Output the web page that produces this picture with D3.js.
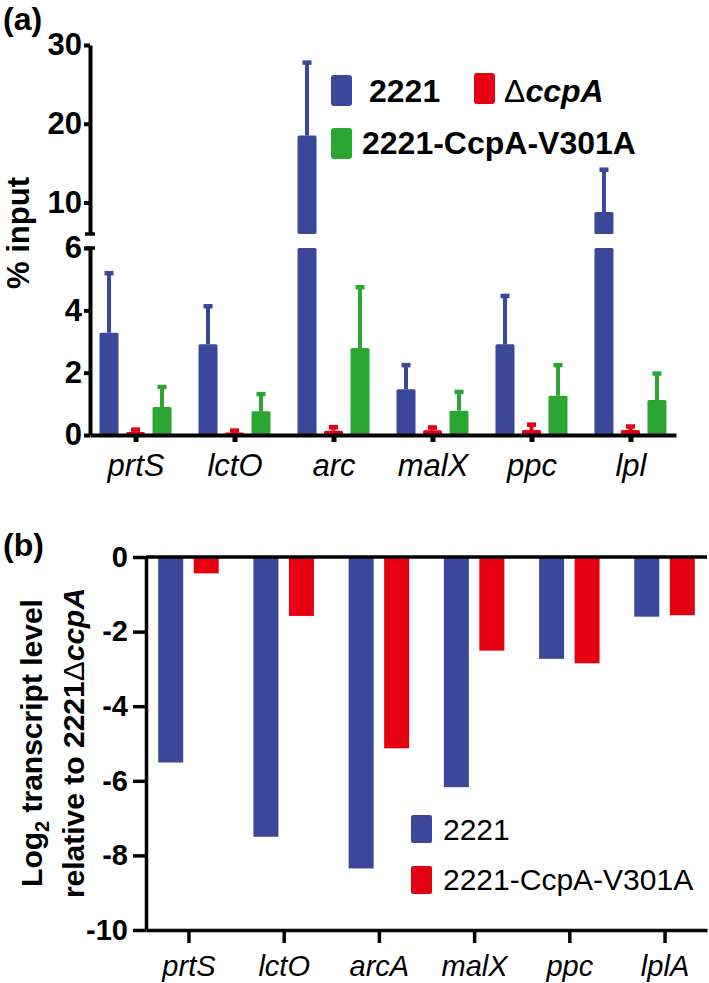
<!DOCTYPE html>
<html><head><meta charset="utf-8">
<script src="https://cdn.jsdelivr.net/npm/d3@7"></script>
<style>
body{margin:0;background:#fff}
svg{display:block;font-family:"Liberation Sans",Arial,sans-serif}
</style></head><body>
<svg width="709" height="983"></svg>
<script>
// panel (a): % input, mean and upper error
let genesA = ["prtS", "lctO", "arc", "malX", "ppc", "lpl"];
let seriesA = ["2221", "ΔccpA", "2221-CcpA-V301A"];
let wtA = [3.28, 2.91, 18.5, 1.47, 2.91, 8.8],
    wtErrA = [1.92, 1.23, 9.3, 0.78, 1.56, 5.4];
let delA = [0.1, 0.08, 0.14, 0.15, 0.16, 0.16],
    delErrA = [0.08, 0.07, 0.12, 0.1, 0.18, 0.12];
let mutA = [0.9, 0.76, 2.79, 0.78, 1.26, 1.12],
    mutErrA = [0.65, 0.56, 1.96, 0.61, 0.99, 0.86];
let ticksLowA = [0, 2, 4, 6], ticksHighA = [10, 20, 30];

// panel (b): log2 transcript level
let genesB = ["prtS", "lctO", "arcA", "malX", "ppc", "lplA"];
let seriesB = ["2221", "2221-CcpA-V301A"];
let wtB = [-5.51, -7.5, -8.35, -6.17, -2.73, -1.6];
let mutB = [-0.44, -1.58, -5.13, -2.51, -2.85, -1.56];
let ticksB = [0, -2, -4, -6, -8, -10];

let blue = "#3b4799", red = "#e50012", green = "#2ca633";
let svg = d3.select("svg");
let fmt = d => String(d);

// ---------- (a) ----------
let a = svg.append("g");
let xA = d3.scalePoint().domain(genesA).range([90, 676]).padding(0.46),
    offA = d3.scalePoint().domain(seriesA).range([-26.5, 26.5]),
    yLow = d3.scaleLinear().domain([0, 6]).range([435, 248]),
    yHigh = d3.scaleLinear().domain([6, 30]).range([234, 45]),
    colA = d3.scaleOrdinal(seriesA, [blue, red, green]);
let bwA = 19;

let rowsA = [];
seriesA.forEach((s, j) => {
  let m = [wtA, delA, mutA][j], e = [wtErrA, delErrA, mutErrA][j];
  genesA.forEach((g, i) => rowsA.push({g: g, s: s, v: m[i], e: e[i]}));
});
let yv = v => v > 6 ? yHigh(v) : yLow(v);
let cx = d => xA(d.g) + offA(d.s);

// error stems and caps
a.selectAll(".stem").data(rowsA).enter().append("line")
    .attr("x1", cx).attr("x2", cx)
    .attr("y1", d => yv(d.v)).attr("y2", d => yv(d.v + d.e))
    .attr("stroke", d => colA(d.s)).attr("stroke-width", 4);
a.selectAll(".cap").data(rowsA).enter().append("rect")
    .attr("x", d => cx(d) - 4.5).attr("width", 9)
    .attr("y", d => yv(d.v + d.e) - 2).attr("height", 4.5)
    .attr("fill", d => colA(d.s));

// bars, split over the axis break
a.selectAll(".low").data(rowsA).enter().append("rect")
    .attr("x", d => cx(d) - bwA / 2).attr("width", bwA)
    .attr("y", d => yLow(Math.min(d.v, 6)))
    .attr("height", d => yLow(0) - yLow(Math.min(d.v, 6)))
    .attr("rx", 1.5)
    .attr("fill", d => colA(d.s));
a.selectAll(".high").data(rowsA.filter(d => d.v > 6)).enter().append("rect")
    .attr("x", d => cx(d) - bwA / 2).attr("width", bwA)
    .attr("y", d => yHigh(d.v))
    .attr("height", d => yHigh(6) - yHigh(d.v))
    .attr("rx", 1.5)
    .attr("fill", d => colA(d.s));

let styleA = g => {
  g.attr("font-family", null).attr("font-size", null);
  g.select(".domain").attr("stroke-width", 4);
  g.selectAll(".tick line").attr("stroke-width", 4);
  g.selectAll("text").attr("font-size", 31).attr("font-weight", "bold").attr("fill", "#000");
};
a.append("g").attr("transform", "translate(90,0)")
    .call(d3.axisLeft(yLow).tickValues(ticksLowA).tickFormat(fmt)
      .tickSize(6).tickSizeOuter(0).tickPadding(2))
    .call(styleA);
a.append("g").attr("transform", "translate(90,0)")
    .call(d3.axisLeft(yHigh).tickValues(ticksHighA).tickFormat(fmt)
      .tickSize(6).tickSizeOuter(0).tickPadding(2))
    .call(styleA);
// break caps
a.selectAll(".brk").data([yHigh(6), yLow(6)]).enter().append("line")
    .attr("x1", 85).attr("x2", 95).attr("y1", d => d).attr("y2", d => d)
    .attr("stroke", "#000").attr("stroke-width", 3.5);

a.append("g").attr("transform", "translate(0,435)")
    .call(d3.axisBottom(xA).tickSize(7).tickSizeOuter(0))
    .call(g => {
      g.attr("font-family", null).attr("font-size", null);
      g.select(".domain").attr("stroke-width", 4);
      g.selectAll(".tick line").attr("stroke-width", 5);
      g.selectAll("text").attr("font-size", 31).attr("font-style", "italic")
          .attr("fill", "#000").attr("y", 41).attr("dy", 0);
    });

a.append("text").attr("transform", "translate(29,233) rotate(-90)")
    .attr("text-anchor", "middle").attr("font-size", 31).attr("font-weight", "bold")
    .text("% input");
a.append("text").attr("x", 3).attr("y", 30)
    .attr("font-size", 32).attr("font-weight", "bold").text("(a)");

// legend (a)
let legA = [
  {s: seriesA[0], x: 331, y: 75, tx: 369, ty: 102},
  {s: seriesA[1], x: 474, y: 73, tx: 504, ty: 102},
  {s: seriesA[2], x: 331, y: 128, tx: 362, ty: 154}
];
a.selectAll(".lsw").data(legA).enter().append("rect")
    .attr("x", d => d.x).attr("y", d => d.y).attr("width", 21).attr("height", 31)
    .attr("rx", 3).attr("fill", d => colA(d.s));
let lt = a.selectAll(".ltx").data(legA).enter().append("text")
    .attr("x", d => d.tx).attr("y", d => d.ty)
    .attr("font-size", 32).attr("font-weight", "bold");
lt.each(function(d) {
  let t = d3.select(this);
  if (d.s.startsWith("Δ")) {
    t.append("tspan").attr("font-weight", "normal").text("Δ");
    t.append("tspan").attr("font-style", "italic").text(d.s.slice(1));
  } else t.text(d.s);
});

// ---------- (b) ----------
let b = svg.append("g");
let xB = d3.scalePoint().domain(genesB).range([146, 707]).padding(0.446),
    offB = d3.scalePoint().domain(seriesB).range([-17.75, 17.75]),
    yB = d3.scaleLinear().domain([-10, 0]).range([930, 557]),
    colB = d3.scaleOrdinal(seriesB, [blue, red]);
let bwB = 25;

let rowsB = [];
seriesB.forEach((s, j) => {
  let m = [wtB, mutB][j];
  genesB.forEach((g, i) => rowsB.push({g: g, s: s, v: m[i]}));
});

b.selectAll(".bar").data(rowsB).enter().append("rect")
    .attr("x", d => xB(d.g) + offB(d.s) - bwB / 2).attr("width", bwB)
    .attr("y", yB(0)).attr("height", d => yB(d.v) - yB(0))
    .attr("fill", d => colB(d.s));

b.append("line").attr("x1", 146).attr("x2", 707)
    .attr("y1", yB(0)).attr("y2", yB(0))
    .attr("stroke", "#000").attr("stroke-width", 3.5);

b.append("g").attr("transform", "translate(146,0)")
    .call(d3.axisLeft(yB).tickValues(ticksB).tickFormat(fmt)
      .tickSize(13).tickSizeOuter(0).tickPadding(5))
    .call(g => {
      g.attr("font-family", null).attr("font-size", null);
      g.select(".domain").attr("stroke-width", 3.5);
      g.selectAll(".tick line").attr("stroke-width", 3.5);
      g.selectAll("text").attr("font-size", 29).attr("font-weight", "bold").attr("fill", "#000");
    });
b.append("g").attr("transform", "translate(0,930)")
    .call(d3.axisBottom(xB).tickSize(13).tickSizeOuter(0))
    .call(g => {
      g.attr("font-family", null).attr("font-size", null);
      g.select(".domain").attr("stroke-width", 3.5);
      g.selectAll(".tick line").attr("stroke-width", 3.5);
      g.selectAll("text").attr("font-size", 29).attr("font-style", "italic")
          .attr("fill", "#000").attr("y", 46).attr("dy", 0);
    });

let t1 = b.append("text").attr("transform", "translate(42,743) rotate(-90)")
    .attr("text-anchor", "middle").attr("font-size", 30).attr("font-weight", "bold");
t1.append("tspan").text("Log");
t1.append("tspan").attr("font-size", 20).attr("dy", 7).text("2");
t1.append("tspan").attr("dy", -7).text(" transcript level");
let t2 = b.append("text").attr("transform", "translate(84,743) rotate(-90)")
    .attr("text-anchor", "middle").attr("font-size", 30).attr("font-weight", "bold");
t2.append("tspan").text("relative to 2221");
t2.append("tspan").attr("font-weight", "normal").text("Δ");
t2.append("tspan").attr("font-style", "italic").text("ccpA");

b.append("text").attr("x", 3).attr("y", 556)
    .attr("font-size", 32).attr("font-weight", "bold").text("(b)");

// legend (b)
let legB = [{s: seriesB[0], y: 815, ty: 840}, {s: seriesB[1], y: 866, ty: 890}];
b.selectAll(".lsw").data(legB).enter().append("rect")
    .attr("x", 411).attr("y", d => d.y).attr("width", 21).attr("height", 28)
    .attr("rx", 2).attr("fill", d => colB(d.s));
b.selectAll(".ltx").data(legB).enter().append("text")
    .attr("x", 443).attr("y", d => d.ty).attr("font-size", 30)
    .text(d => d.s);
</script>
</body></html>
